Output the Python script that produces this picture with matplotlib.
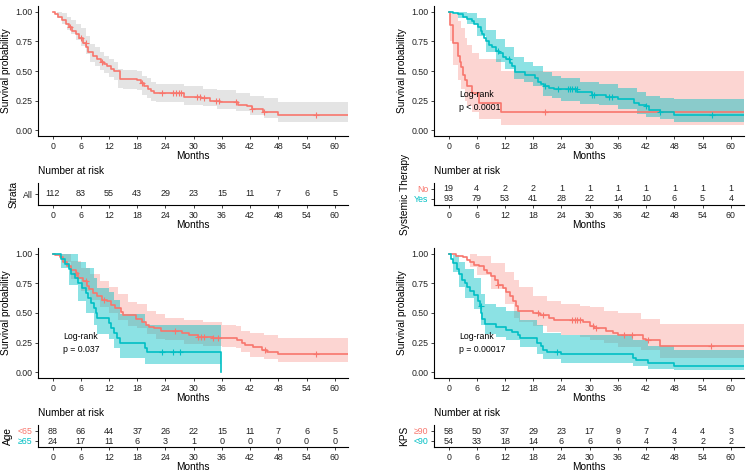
import numpy as np
import matplotlib
matplotlib.use("Agg")
import matplotlib.pyplot as plt

plt.rcParams['font.family'] = ['Liberation Sans', 'DejaVu Sans']

RED = "#F8766D"
CYAN = "#00BFC4"

months_ticks = [0, 6, 12, 18, 24, 30, 36, 42, 48, 54, 60]

# --- overall
all_t = [0, 0.5, 1.2, 2, 2.8, 3.5, 4.2, 5, 5.6, 6.5, 7.1, 7.5, 8.5, 9.5, 10.2, 11.0, 11.6, 12.5, 13.1, 14.3,
         18.0, 18.8, 19.5, 20.3, 21.0, 21.5, 27.9, 31.5, 33.5, 35.6, 39.5, 41.3, 42.3, 44.8, 48.0, 62.7]
all_s = [1.00, 0.98, 0.96, 0.93, 0.90, 0.87, 0.84, 0.81, 0.78, 0.74, 0.70, 0.66, 0.63, 0.60, 0.58, 0.56, 0.54,
         0.52, 0.50, 0.43, 0.42, 0.40, 0.37, 0.35, 0.33, 0.31, 0.28, 0.27, 0.25, 0.24, 0.21, 0.20, 0.18, 0.15,
         0.13, 0.13]
all_cens = [3.6, 6.0, 7.0, 10.6, 19.0, 23.2, 25.6, 26.2, 26.8, 27.4, 30.8, 31.3, 32.1, 34.8, 35.3, 39.0,
            42.3, 45.0, 56.0]
all_ci_t = [0, 1, 2, 3, 4, 5, 6, 7, 8, 9, 10, 11, 12, 13, 14, 15, 18, 19, 20, 21, 22, 28, 32, 35, 39, 42,
            45, 48, 62.7]
all_lo = [1.00, 0.95, 0.90, 0.85, 0.81, 0.76, 0.71, 0.64, 0.58, 0.54, 0.51, 0.48, 0.45, 0.42, 0.36, 0.35,
          0.34, 0.30, 0.27, 0.25, 0.24, 0.21, 0.20, 0.18, 0.16, 0.13, 0.10, 0.07, 0.07]
all_hi = [1.00, 1.00, 0.99, 0.96, 0.93, 0.90, 0.86, 0.80, 0.73, 0.70, 0.66, 0.63, 0.60, 0.58, 0.52, 0.51,
          0.50, 0.46, 0.44, 0.41, 0.39, 0.37, 0.35, 0.34, 0.31, 0.29, 0.27, 0.24, 0.24]
risk_all = [112, 83, 55, 43, 29, 23, 15, 11, 7, 6, 5]

# --- systemic therapy
no_t = [0, 0.3, 0.9, 2.1, 2.5, 2.7, 3.05, 3.4, 4.0, 5.0, 6.5, 11.2, 62.7]
no_s = [1.00, 0.89, 0.74, 0.63, 0.58, 0.53, 0.47, 0.42, 0.37, 0.31, 0.23, 0.15, 0.15]
no_cens = [20.5]
no_ci_t = [0, 0.3, 0.9, 2.1, 2.7, 3.4, 4.0, 5.0, 6.5, 11.2, 62.7]
no_lo = [1.00, 0.75, 0.55, 0.42, 0.35, 0.25, 0.20, 0.15, 0.09, 0.045, 0.045]
no_hi = [1.00, 1.00, 0.98, 0.92, 0.86, 0.78, 0.72, 0.65, 0.60, 0.50, 0.50]

yes_t = [0, 1.0, 2.0, 3.0, 4.0, 5.0, 5.5, 6.2, 6.8, 7.2, 7.6, 8.0, 8.6, 9.2, 10.0, 10.8, 11.5, 12.3, 13.0,
         13.4, 14.2, 16.3, 18.3, 19.0, 19.6, 20.3, 21.3, 22.4, 27.3, 30.5, 33.5, 36.0, 39.5, 40.5, 42.0, 42.6,
         45.0, 48.0, 62.7]
yes_s = [1.00, 0.99, 0.98, 0.96, 0.94, 0.92, 0.90, 0.87, 0.84, 0.81, 0.78, 0.75, 0.72, 0.70, 0.67, 0.65,
         0.62, 0.60, 0.57, 0.54, 0.49, 0.47, 0.44, 0.41, 0.39, 0.37, 0.36, 0.35, 0.32, 0.30, 0.28, 0.26, 0.23,
         0.21, 0.20, 0.17, 0.15, 0.13, 0.13]
yes_cens = [10.5, 12.8, 20.5, 23.2, 25.3, 25.8, 26.3, 26.8, 27.2, 30.5, 31.0, 34.0, 34.8, 42.0, 45.0, 56.0]
yes_ci_t = [0, 2, 4, 6, 8, 10, 12, 14, 16, 18, 20, 22, 24, 28, 32, 36, 40, 42, 45, 48, 62.7]
yes_lo = [1.00, 0.95, 0.90, 0.80, 0.66, 0.58, 0.52, 0.43, 0.41, 0.37, 0.29, 0.27, 0.25, 0.22, 0.21, 0.18,
          0.14, 0.11, 0.09, 0.065, 0.065]
yes_hi = [1.00, 1.00, 0.99, 0.95, 0.85, 0.77, 0.70, 0.62, 0.58, 0.54, 0.49, 0.46, 0.44, 0.41, 0.39, 0.36,
          0.32, 0.29, 0.27, 0.26, 0.26]
risk_no = [19, 4, 2, 2, 1, 1, 1, 1, 1, 1, 1]
risk_yes = [93, 79, 53, 41, 28, 22, 14, 10, 6, 5, 4]

# --- age
young_t = [0, 0.5, 1.5, 2.2, 3.0, 4.0, 5.0, 5.5, 6.5, 7.3, 7.8, 8.5, 9.5, 10.5, 11.5, 12.5, 13.3, 14.5, 15.0,
           17.8, 19.0, 19.8, 20.5, 21.5, 23.0, 27.5, 29.0, 31.0, 34.0, 39.3, 40.3, 41.0, 42.5, 44.5, 45.5,
           48.0, 62.7]
young_s = [1.00, 0.99, 0.97, 0.93, 0.90, 0.86, 0.84, 0.80, 0.77, 0.73, 0.70, 0.67, 0.64, 0.61, 0.60, 0.57,
           0.54, 0.51, 0.48, 0.45, 0.42, 0.40, 0.38, 0.37, 0.35, 0.33, 0.31, 0.30, 0.29, 0.27, 0.25, 0.23,
           0.21, 0.19, 0.17, 0.15, 0.15]
young_cens = [5.0, 7.0, 11.0, 26.0, 31.0, 31.5, 32.2, 34.2, 35.2, 45.2, 56.0]
young_ci_t = [0, 2, 4, 6, 8, 10, 12, 14, 16, 18, 20, 22, 24, 28, 32, 36, 39, 40, 42, 45, 48, 62.7]
young_lo = [1.00, 0.93, 0.79, 0.69, 0.61, 0.55, 0.50, 0.44, 0.39, 0.37, 0.32, 0.28, 0.27, 0.24, 0.22, 0.21,
            0.20, 0.17, 0.13, 0.11, 0.085, 0.085]
young_hi = [1.00, 1.00, 0.94, 0.88, 0.83, 0.77, 0.72, 0.66, 0.59, 0.58, 0.52, 0.49, 0.46, 0.44, 0.42, 0.40,
            0.39, 0.35, 0.33, 0.31, 0.29, 0.29]

old_t = [0, 1.8, 2.7, 3.5, 3.9, 4.7, 5.3, 6.2, 7.1, 7.6, 8.1, 8.7, 9.2, 9.5, 12.0, 12.4, 13.1, 13.7, 14.3,
         19.6, 20.0, 35.7]
old_s = [1.00, 0.958, 0.917, 0.875, 0.833, 0.792, 0.75, 0.708, 0.667, 0.625, 0.583, 0.542, 0.50, 0.458,
         0.417, 0.375, 0.333, 0.292, 0.25, 0.208, 0.167, 0.0]
old_cens = [23.2, 25.6, 27.0]
old_ci_t = [0, 1.8, 3.5, 5.3, 7.1, 8.7, 9.5, 12.0, 13.1, 14.3, 19.6, 35.7]
old_lo = [1.00, 0.88, 0.74, 0.60, 0.50, 0.40, 0.32, 0.28, 0.20, 0.12, 0.07, 0.07]
old_hi = [1.00, 1.00, 1.00, 0.93, 0.88, 0.80, 0.71, 0.68, 0.61, 0.49, 0.40, 0.40]
risk_young = [88, 66, 44, 37, 26, 22, 15, 11, 7, 6, 5]
risk_old = [24, 17, 11, 6, 3, 1, 0, 0, 0, 0, 0]

# --- KPS
high_t = [0, 1.5, 3.0, 4.0, 4.5, 5.5, 6.5, 7.5, 8.2, 9.1, 9.8, 10.5, 11.5, 12.2, 13.0, 13.7, 14.3, 14.8,
          18.0, 19.5, 21.3, 22.5, 28.5, 30.0, 31.0, 33.5, 35.0, 36.0, 41.3, 42.0, 45.0, 62.7]
high_s = [1.00, 0.98, 0.97, 0.95, 0.93, 0.91, 0.90, 0.86, 0.84, 0.81, 0.78, 0.74, 0.71, 0.68, 0.64, 0.60,
          0.56, 0.52, 0.50, 0.48, 0.46, 0.44, 0.42, 0.39, 0.37, 0.35, 0.33, 0.31, 0.28, 0.27, 0.22, 0.22]
high_cens = [10.6, 19.0, 20.0, 26.3, 26.8, 27.3, 27.9, 30.8, 31.3, 37.3, 39.0, 42.3, 55.8]
high_ci_t = [0, 4.5, 6, 9, 12, 14, 15, 18, 21, 24, 28, 30, 33, 36, 41, 45, 62.7]
high_lo = [1.00, 0.89, 0.82, 0.70, 0.58, 0.46, 0.42, 0.39, 0.34, 0.31, 0.30, 0.27, 0.25, 0.21, 0.19, 0.12, 0.12]
high_hi = [1.00, 1.00, 0.98, 0.92, 0.85, 0.78, 0.72, 0.64, 0.60, 0.58, 0.56, 0.55, 0.52, 0.50, 0.45, 0.41, 0.41]

low_t = [0, 0.5, 1.0, 1.7, 2.2, 2.8, 3.5, 4.0, 4.5, 5.5, 6.2, 6.7, 6.9, 7.2, 7.8, 10.0, 12.2, 13.5, 14.7, 15.2,
         18.8, 19.6, 20.0, 21.0, 24.0, 39.3, 39.8, 42.3, 48.0, 62.7]
low_s = [1.00, 0.96, 0.92, 0.87, 0.83, 0.78, 0.75, 0.72, 0.69, 0.65, 0.60, 0.56, 0.50, 0.45, 0.41, 0.38, 0.36,
         0.34, 0.31, 0.29, 0.25, 0.22, 0.19, 0.17, 0.15, 0.12, 0.10, 0.075, 0.05, 0.05]
low_cens = [6.8, 23.0]
low_ci_t = [0, 1, 2.2, 3.5, 5.5, 6.9, 7.8, 10, 12.2, 15.2, 18.8, 20, 24, 39.3, 42.3, 48, 62.7]
low_lo = [1.00, 0.85, 0.72, 0.63, 0.53, 0.40, 0.32, 0.30, 0.27, 0.21, 0.15, 0.11, 0.08, 0.05, 0.03, 0.015, 0.015]
low_hi = [1.00, 0.99, 0.93, 0.87, 0.80, 0.66, 0.58, 0.55, 0.52, 0.44, 0.40, 0.33, 0.31, 0.27, 0.22, 0.19, 0.19]
risk_high = [58, 50, 37, 29, 23, 17, 9, 7, 4, 4, 3]
risk_low = [54, 33, 18, 14, 6, 6, 6, 4, 3, 2, 2]

W, H = 749, 474
XLIM = (-3.1, 62.8)
fig = plt.figure(figsize=(W / 100, H / 100), dpi=100)


def ax_px(l, t, r, b):
    return fig.add_axes([l / W, 1 - b / H, (r - l) / W, (b - t) / H])


def style(ax):
    for s in ["top", "right"]:
        ax.spines[s].set_visible(False)
    for s in ["left", "bottom"]:
        ax.spines[s].set_linewidth(0.8)
    ax.tick_params(labelsize=6.3, length=2.5, width=0.6, pad=1.5, colors="#222222")
    ax.set_xlim(*XLIM)
    ax.set_xticks(months_ticks)


def km(ax, t, s, ci_t, lo, hi, color, fill, alpha, cens):
    ax.fill_between(ci_t, lo, hi, step="post", color=fill, alpha=alpha, lw=0)
    ax.step(t, s, where="post", color=color, lw=1.2)
    t = np.array(t)
    s = np.array(s)
    idx = np.searchsorted(t, cens, side="right") - 1
    ax.plot(cens, s[idx], ls="none", marker="+", ms=5, mew=0.8, color=color)


def main_panel(l, t, r, b, curves, pval=None):
    ax = ax_px(l, t, r, b)
    for c in curves:
        km(ax, *c)
    style(ax)
    ax.set_ylim(-0.05, 1.05)
    ax.set_yticks([0, 0.25, 0.5, 0.75, 1.0])
    ax.set_yticklabels(["0.00", "0.25", "0.50", "0.75", "1.00"])
    ax.set_ylabel("Survival probability", fontsize=7.3, labelpad=3)
    ax.set_xlabel("Months", fontsize=7.3, labelpad=0.5)
    if pval:
        ax.text(2.3, 0.30, "Log-rank", fontsize=6.3, va="center")
        ax.text(2.3, 0.19, pval, fontsize=6.3, va="center")
    return ax


def risk_panel(l, t, r, b, rows, labels, colors, title):
    ax = ax_px(l, t, r, b)
    n = len(rows)
    for i, row in enumerate(rows):
        y = n - 1 - i
        for x, v in zip(months_ticks, row):
            ax.text(x, y, str(v), ha="center", va="center", fontsize=6.5, color="#222222")
    style(ax)
    if n == 1:
        ax.set_ylim(-1.1, 1.1)
    else:
        ax.set_ylim(-0.6, 1.6)
    ax.set_yticks(list(range(n - 1, -1, -1)))
    ax.set_yticklabels(labels)
    for tl, c in zip(ax.get_yticklabels(), colors):
        tl.set_color(c)
    ax.set_ylabel(title, fontsize=7.3, labelpad=3)
    ax.set_xlabel("Months", fontsize=7.3, labelpad=0)
    ax.text(0, 1.3, "Number at risk", transform=ax.transAxes, fontsize=7.3, va="bottom", ha="left")
    return ax


# top-left
main_panel(38, 6, 348, 136,
           [(all_t, all_s, all_ci_t, all_lo, all_hi, RED, "#a8a8a8", 0.3, all_cens)])
risk_panel(38, 183, 348, 205, [risk_all], ["All"], ["#222222"], "Strata")

# top-right
main_panel(434, 6, 744, 136,
           [(no_t, no_s, no_ci_t, no_lo, no_hi, RED, RED, 0.3, no_cens),
            (yes_t, yes_s, yes_ci_t, yes_lo, yes_hi, CYAN, CYAN, 0.45, yes_cens)],
           "p < 0.0001")
risk_panel(434, 183, 744, 205, [risk_no, risk_yes], ["No", "Yes"], [RED, CYAN], "Systemic Therapy")

# bottom-left
main_panel(38, 248, 348, 378,
           [(young_t, young_s, young_ci_t, young_lo, young_hi, RED, RED, 0.3, young_cens),
            (old_t, old_s, old_ci_t, old_lo, old_hi, CYAN, CYAN, 0.45, old_cens)],
           "p = 0.037")
risk_panel(38, 425, 348, 447, [risk_young, risk_old], ["<65", "\u226565"], [RED, CYAN], "Age")

# bottom-right
main_panel(434, 248, 744, 378,
           [(high_t, high_s, high_ci_t, high_lo, high_hi, RED, RED, 0.3, high_cens),
            (low_t, low_s, low_ci_t, low_lo, low_hi, CYAN, CYAN, 0.45, low_cens)],
           "p = 0.00017")
risk_panel(434, 425, 744, 447, [risk_high, risk_low], ["\u226590", "<90"], [RED, CYAN], "KPS")

fig.savefig("out.png", dpi=100)
